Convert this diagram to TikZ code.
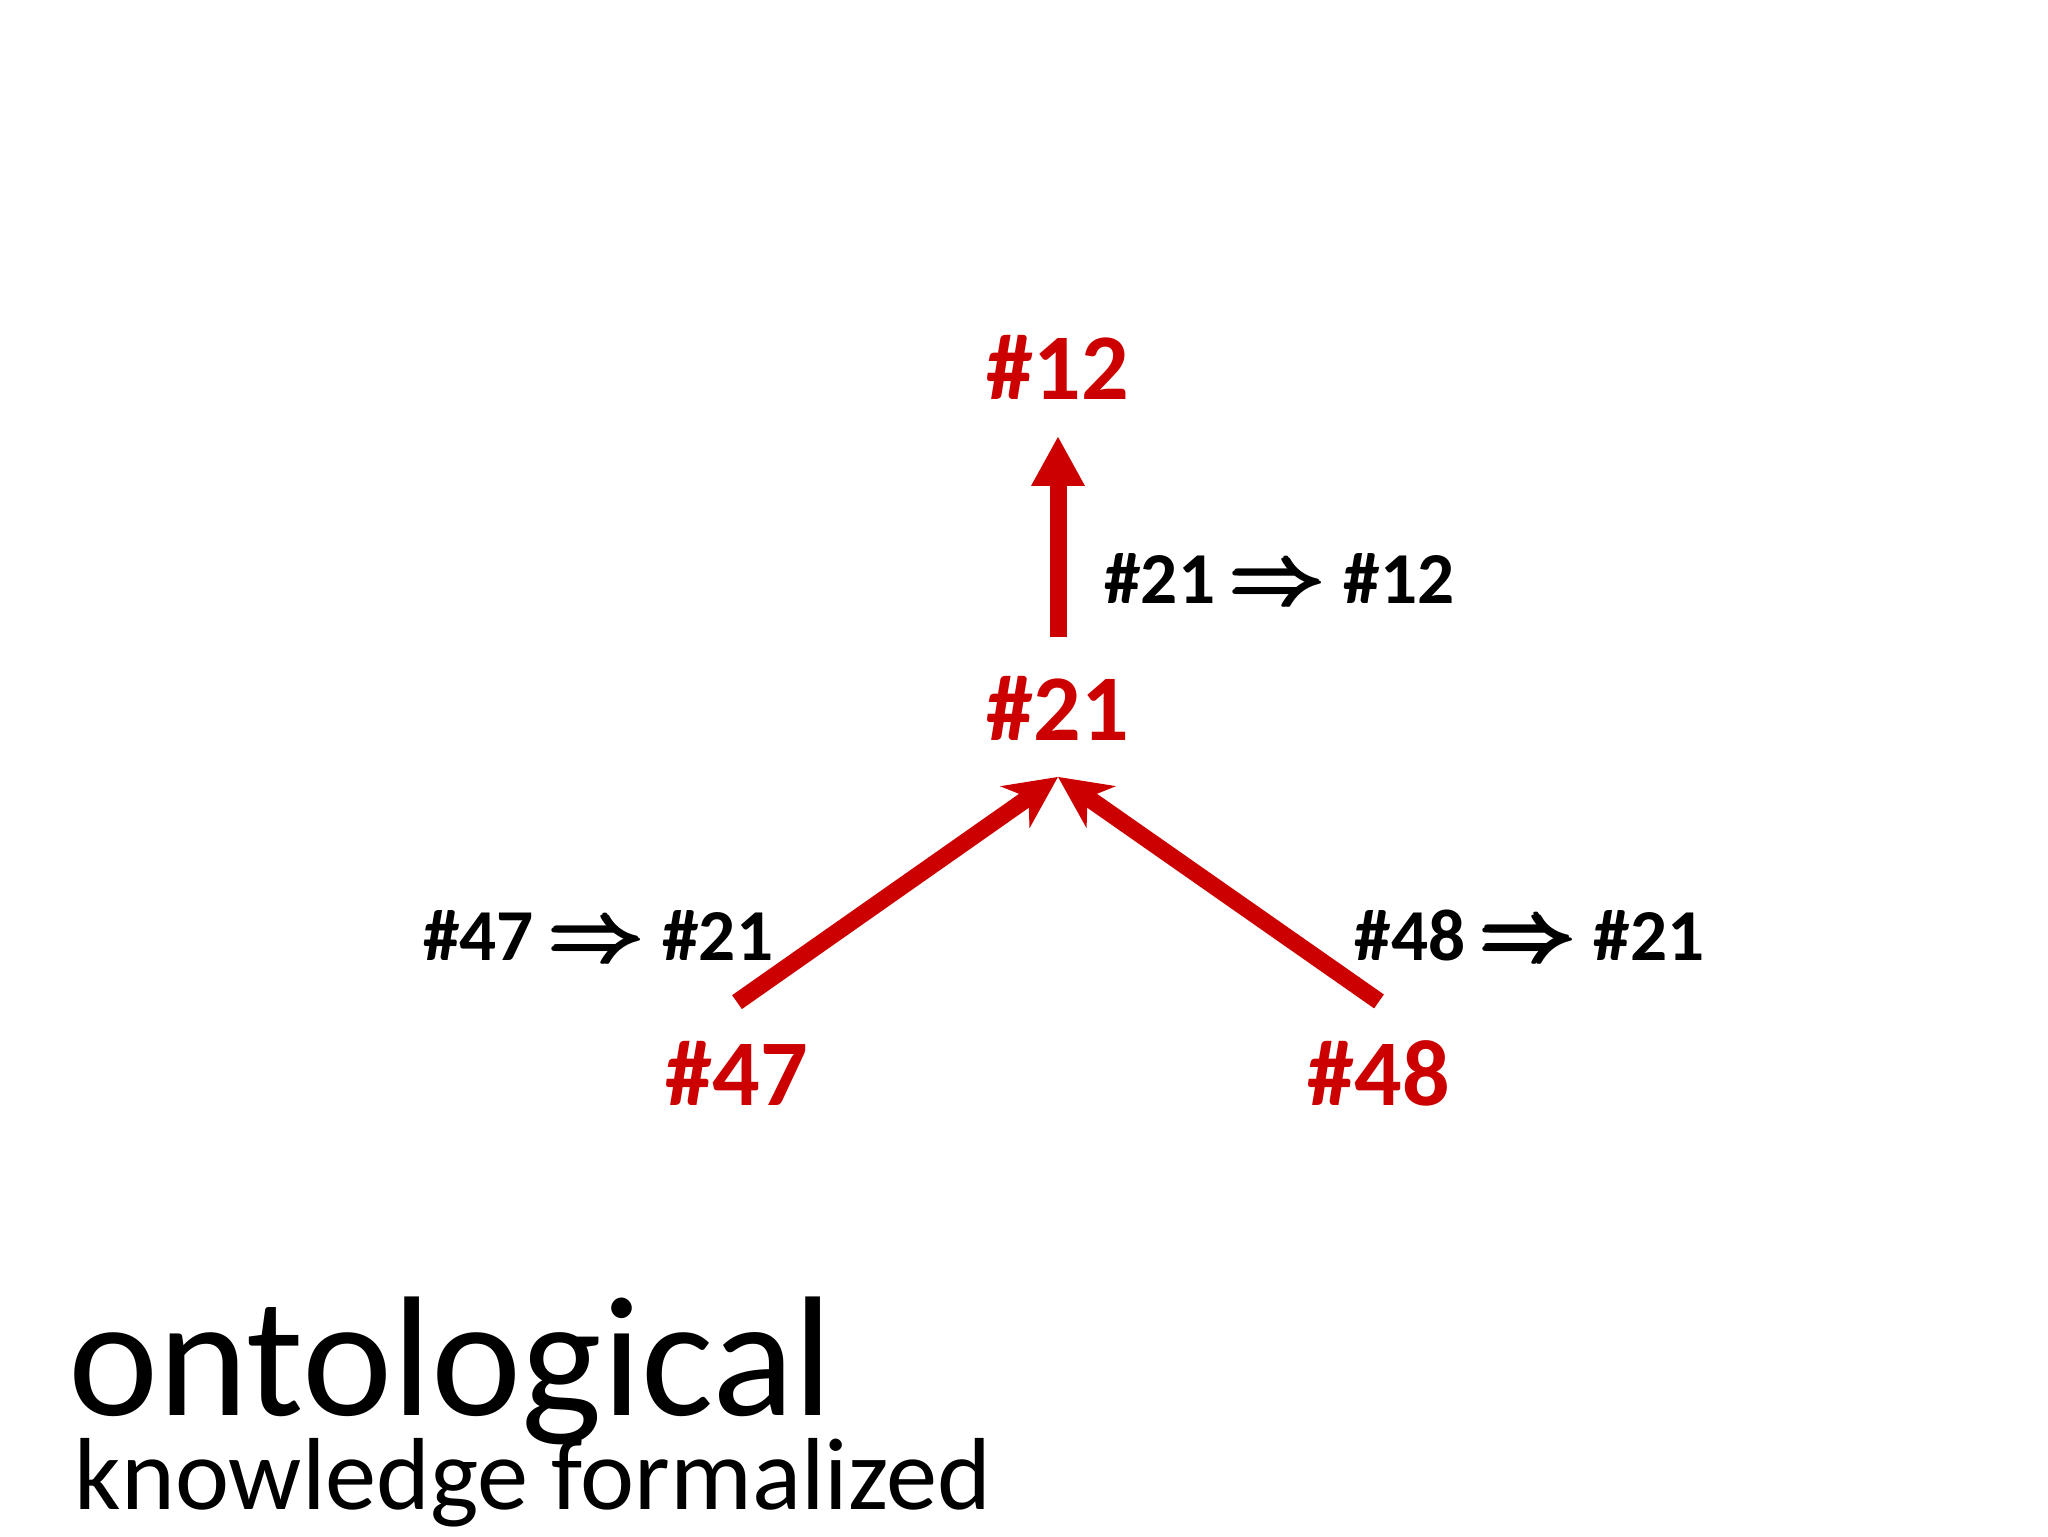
\documentclass[tikz,border=0pt]{standalone}
\usepackage{fontspec}
\setmainfont{Carlito}
\usepackage{graphicx}
\usepackage{amsmath}
\usetikzlibrary{arrows.meta}
\definecolor{ontored}{RGB}{204,0,0}
\newcommand{\idfont}{\fontsize{23.5}{23.5}\selectfont\bfseries}
\newcommand{\rulefont}{\fontsize{18.3}{18.3}\selectfont\bfseries}
\newcommand{\impl}[2]{%
  \#{#1}\ \scalebox{1.2}{\boldmath$\pmb{\Rightarrow}$}\ \#{#2}%
}

\begin{document}
\begin{tikzpicture}[
      x=0.25pt,y=-0.25pt,
      every node/.style={inner sep=0pt,font=\idfont,text=ontored},
      rule/.style={font=\rulefont,text=black},
      uptri/.style={{Triangle[length=12.5pt,width=12.5pt]}-},
      upstealth/.style={{Stealth[length=13pt,width=12.5pt,inset=4pt]}-},
      edge from parent/.style={draw=ontored,line width=4.25pt},
      edge from parent path={([yshift=-9pt]\tikzparentnode.south) -- ([yshift=9.5pt]\tikzchildnode.north)},
      level 1/.style={level distance=85.25pt},
      level 2/.style={level distance=91.25pt,sibling distance=160.5pt}
    ]
      \fill[white] (0,0) rectangle (2048,1536);
      \node (n12) at (1058,367) {\#12}
        child {node (n21) {\#21}
          child {node (n47) {\#47}
            edge from parent[upstealth] node (r4721) [rule,pos=0.705,anchor=east,xshift=-12.5pt] {\impl{47}{21}}
          }
          child {node (n48) {\#48}
            edge from parent[upstealth] node (r4821) [rule,pos=0.705,anchor=west,xshift=15.5pt] {\impl{48}{21}}
          }
          edge from parent[uptri] node (r2112) [rule,pos=0.71,anchor=west,xshift=9.5pt] {\impl{21}{12}}
        }
      ;
      % caption
      \node (title) [anchor=base west,text=black,font=\fontsize{42.7}{42.7}\selectfont] at (68,1415) {ontological};
      \node (subtitle) [anchor=base west,text=black,font=\fontsize{25.6}{25.6}\selectfont]
        at ([xshift=1.5pt,yshift=-23.5pt]title.base west) {knowledge formalized};
    \end{tikzpicture}
\end{document}
